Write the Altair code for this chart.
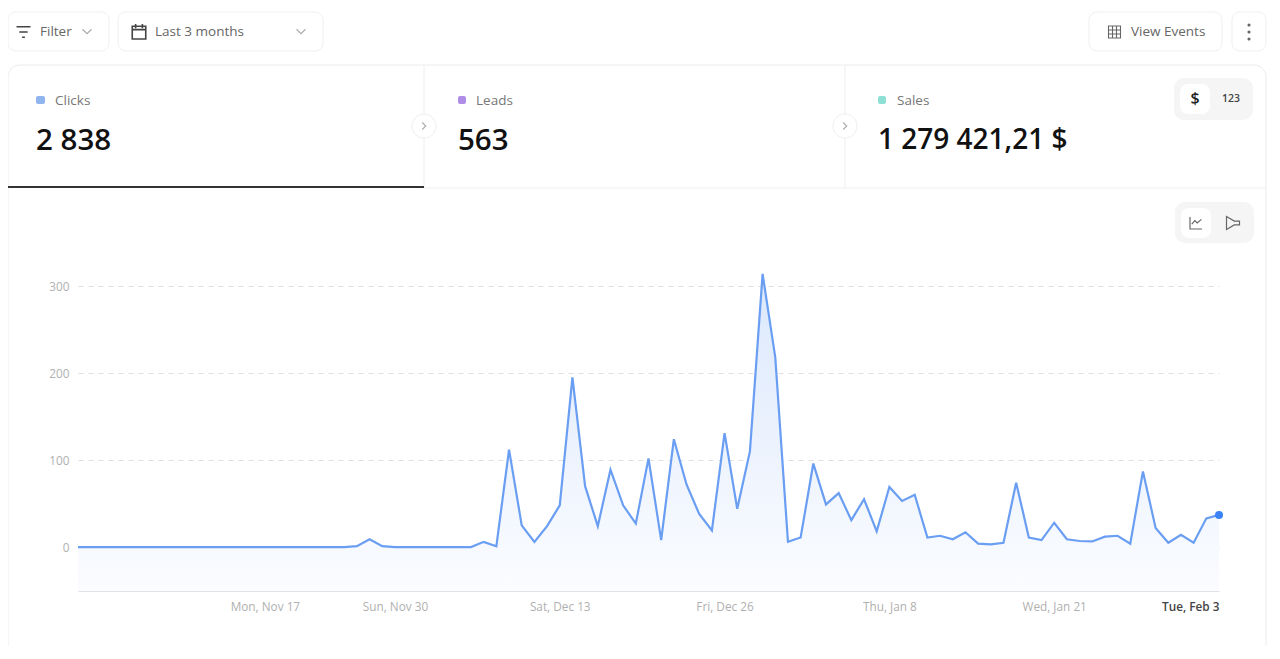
import altair as alt
import pandas as pd

# ---- data ----
start_date = "2025-11-05"
clicks = [0,0,0,0,0,0,0,0,0,0,0,0,0,0,0,0,0,0,0,0,0,0,1,9,1,0,0,0,0,0,0,0,6,1,112,25,6,24,48,195,70,24,89,48,27,102,8,124,72,38,19,131,44,110,314,218,6,11,96,49,62,31,55,18,69,53,60,11,13,9,17,4,3,5,74,11,8,28,9,7,6.5,12,13,4,87,22,5,14,5,33,37]
y_ticks = [0, 100, 200, 300]
x_ticks = ["2025-11-17", "2025-11-30", "2025-12-13", "2025-12-26", "2026-01-08", "2026-01-21", "2026-02-03"]
metric_names = ["Clicks", "Leads", "Sales"]
metric_values = ["2 838", "563", "1 279 421,21 $"]
filter_label = "Filter"
range_label = "Last 3 months"
events_label = "View Events"
unit_labels = ["$", "123"]

FONT = "Open Sans"
df = pd.DataFrame({"date": pd.date_range(start_date, periods=len(clicks)).strftime("%Y-%m-%d"), "clicks": clicks})
one = pd.DataFrame({"a": [0]})
last = df.tail(1)

# ---- plot area placed on the page ----
OX, OY, W, H = 78, 260, 1141, 331
px = lambda v: v - OX
py = lambda v: v - OY


def box(x0, y0, x1, y1, r=0, fill="#ffffff", stroke="#efefef", sw=1):
    return alt.Chart(one).mark_rect(cornerRadius=r, fill=fill, stroke=stroke, strokeWidth=sw).encode(
        x=alt.value(px(x0)), x2=alt.value(px(x1)), y=alt.value(py(y0)), y2=alt.value(py(y1)))


def hline(x0, x1, y, color="#eeeeee", sw=1):
    return alt.Chart(one).mark_rule(color=color, strokeWidth=sw).encode(
        x=alt.value(px(x0)), x2=alt.value(px(x1)), y=alt.value(py(y)))


def vline(x, y0, y1, color="#eeeeee", sw=1):
    return alt.Chart(one).mark_rule(color=color, strokeWidth=sw).encode(
        x=alt.value(px(x)), y=alt.value(py(y0)), y2=alt.value(py(y1)))


def label(t, x, y, size=14, color="#666666", weight=400, align="left"):
    return alt.Chart(one).mark_text(text=t, font=FONT, fontSize=size, color=color, fontWeight=weight,
                                    align=align, baseline="middle").encode(
        x=alt.value(px(x)), y=alt.value(py(y)))


def icon(path, x, y, w, color="#555555", sw=1.4):
    return alt.Chart(one).mark_point(shape=path, filled=False, stroke=color, strokeWidth=sw, size=w * w, opacity=1).encode(
        x=alt.value(px(x)), y=alt.value(py(y)))


CHEVRON = "M-1 -0.5L0 0.5L1 -0.5"
RIGHT = "M-0.5 -1L0.5 0L-0.5 1"
FILTER = "M-1 -0.75L1 -0.75M-0.6 0L0.6 0M-0.2 0.75L0.2 0.75"
CAL = "M-0.9 -0.7L0.9 -0.7L0.9 1L-0.9 1ZM-0.9 -0.25L0.9 -0.25M-0.45 -1L-0.45 -0.45M0.45 -1L0.45 -0.45"
GRID = "M-1 -1L1 -1L1 1L-1 1ZM-1 -0.33L1 -0.33M-1 0.33L1 0.33M-0.33 -1L-0.33 1M0.33 -1L0.33 1"
LINEI = "M-1 -1L-1 1L1 1M-0.7 0.2L-0.2 -0.4L0.2 0L0.9 -0.6"
FUNNEL = "M-1 -1L0.2 -0.3L1 -0.3L1 0.3L0.2 0.3L-1 1Z"

chrome = [
    # top buttons
    box(8, 12, 109, 51, 8), box(118, 12, 323, 51, 8), box(1089, 12, 1222, 51, 8), box(1232, 12, 1266, 51, 8),
    icon(FILTER, 23.5, 32, 14, "#444444", 1.6), label(filter_label, 40, 32, 13.5),
    icon(CHEVRON, 87, 31.5, 9, "#aaaaaa", 1.1),
    icon(CAL, 139, 31.5, 15, "#444444", 1.6), label(range_label, 155, 32, 13.5),
    icon(CHEVRON, 301, 31.5, 9, "#aaaaaa", 1.1),
    icon(GRID, 1114.5, 32, 12, "#666666", 1.1), label(events_label, 1131, 32, 13.5),
    alt.Chart(pd.DataFrame({"a": [25, 32, 39]})).mark_circle(color="#666666", size=10, opacity=1).encode(
        x=alt.value(px(1249)), y=alt.Y("a:Q", scale=None, axis=None)).transform_calculate(a=f"datum.a - {OY}"),
    # card: transparent inside, so that the axes under the marks stay visible
    box(8, 65, 1266, 700, 12, "transparent", "#ececec"),
    vline(424, 65, 188), vline(845, 65, 188), hline(424, 1266, 188),
    hline(8, 424, 187, "#333333", 2),
    box(412, 114, 436, 138, 12), box(833, 114, 857, 138, 12),
    icon(RIGHT, 424, 126, 7, "#aaaaaa", 1.1), icon(RIGHT, 845, 126, 7, "#aaaaaa", 1.1),
    # metrics
    box(36, 96, 45, 104, 2, "#8fb4f0", "#8fb4f0", 0), label(metric_names[0], 55, 100.5, 13.5, "#777777"),
    label(metric_values[0], 36, 141, 29.5, "#111111", 600),
    box(458, 96, 466, 104, 2, "#b08ee8", "#b08ee8", 0), label(metric_names[1], 476, 100.5, 13.5, "#777777"),
    label(metric_values[1], 458, 141, 29.5, "#111111", 600),
    box(878, 96, 886, 104, 2, "#8fe0d4", "#8fe0d4", 0), label(metric_names[2], 897, 100.5, 13.5, "#777777"),
    label(metric_values[2], 878, 141, 28, "#111111", 600),
    # toggles
    box(1174, 78, 1253, 120, 10, "#f5f5f5", "#f5f5f5", 0), box(1180, 84, 1210, 114, 8, "#ffffff", "#ffffff", 0),
    label(unit_labels[0], 1195, 99, 16, "#222222", 600, "center"), label(unit_labels[1], 1231, 99, 10.5, "#444444", 600, "center"),
    box(1175, 202, 1254, 243, 10, "#f5f5f5", "#f5f5f5", 0), box(1181, 208, 1211, 238, 8, "#ffffff", "#ffffff", 0),
    icon(LINEI, 1196, 223, 12, "#666666", 1.2), icon(FUNNEL, 1233, 223, 13, "#666666", 1.2),
]

x_enc = alt.X("date:T", title=None, scale=alt.Scale(type="utc", nice=False),
              axis=alt.Axis(values=x_ticks, labelExpr="utcFormat(datum.value, '%a, %b %-d')", grid=False,
                            ticks=False, domainColor="#e2e2e2", labelFont=FONT, labelFontSize=11.8,
                            labelPadding=10, labelOverlap=False, labelBound=False, labelFlush=False,
                            labelColor={"condition": {"test": "utcFormat(datum.value, '%m%d') == '0203'", "value": "#444444"}, "value": "#b0b0b0"},
                            labelFontWeight={"condition": {"test": "utcFormat(datum.value, '%m%d') == '0203'", "value": 600}, "value": 400},
                            labelAlign={"condition": [{"test": "utcFormat(datum.value, '%m%d') == '0203'", "value": "right"},
                                                      {"test": "utcFormat(datum.value, '%m%d') == '1117'", "value": "left"}], "value": "center"}))
y_enc = alt.Y("clicks:Q", title=None, scale=alt.Scale(domain=[-50.5, 330], nice=False, zero=False),
              axis=alt.Axis(values=y_ticks, domain=False, ticks=False, grid=True, gridColor="#dfdfdf", gridDash=[5, 5],
                            labelFont=FONT, labelFontSize=11.8, labelColor="#b0b0b0", labelPadding=9))

base = alt.Chart(df)
area = base.mark_area(
    color=alt.Gradient(gradient="linear", x1=0, y1=0, x2=0, y2=1,
                       stops=[alt.GradientStop(color="#dbe8fc", offset=0),
                              alt.GradientStop(color="#fbfcff", offset=1)])
).encode(x=x_enc, y=y_enc, y2=alt.Y2(datum=-50.5))
line = base.mark_line(color="#6a9ef2", strokeWidth=2.2).encode(x=x_enc, y=y_enc)
dot = alt.Chart(last).mark_circle(color="#3b82f6", size=64, opacity=1).encode(x=x_enc, y=y_enc)

chart = alt.layer(*chrome, area, line, dot).properties(
    width=W, height=H,
    autosize=alt.AutoSizeParams(type="none"),
    padding={"left": OX - 8, "top": OY - 8, "right": 1264 - (OX - 8) - W, "bottom": 638 - (OY - 8) - H},
    background="#ffffff",
).configure_view(stroke=None)

chart.save("out.html", embed_options={"renderer": "svg", "actions": False})
